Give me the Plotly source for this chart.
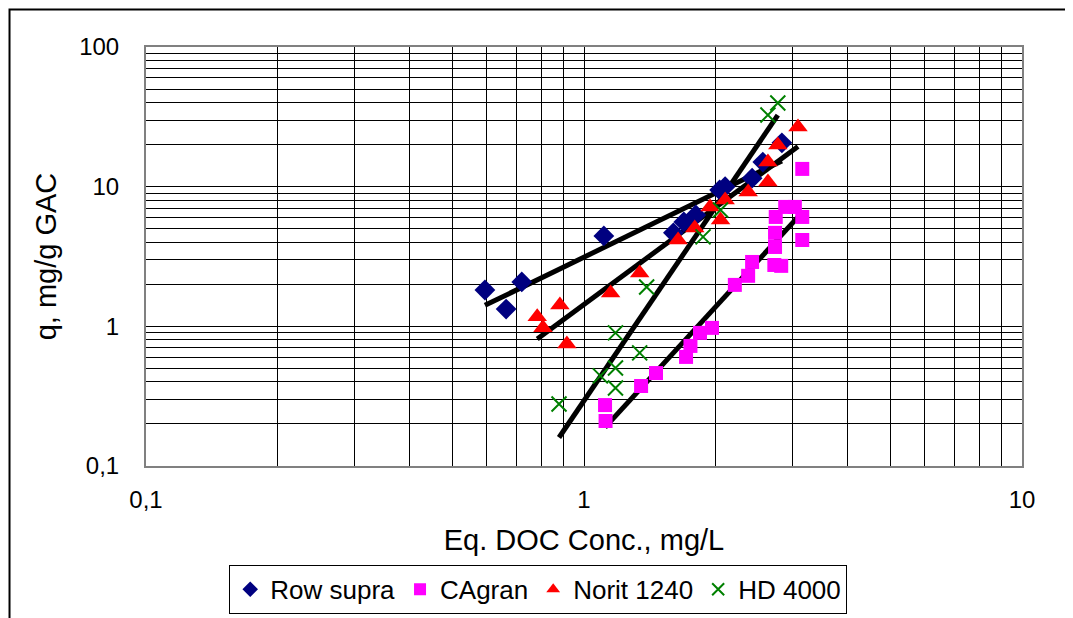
import numpy as np
import plotly.graph_objects as go

# Eq. DOC concentration (mg/L) and loading q (mg/g GAC)
row_supra_x = [0.594, 0.664, 0.721, 1.11, 1.60, 1.69, 1.80, 2.04, 2.10, 2.42, 2.56, 2.83]
row_supra_y = [1.82, 1.33, 2.08, 4.44, 4.67, 5.59, 6.27, 9.47, 10.0, 11.5, 15.0, 20.6]

cagran_x = [1.117, 1.12, 1.35, 1.46, 1.71, 1.75, 1.84, 1.96, 2.21, 2.37, 2.42,
            2.72, 2.82, 2.73, 2.73, 2.74, 2.88, 3.03, 3.15, 3.15, 3.15]
cagran_y = [0.273, 0.210, 0.374, 0.463, 0.604, 0.724, 0.898, 0.975, 1.98, 2.30, 2.89,
            2.75, 2.71, 3.70, 4.67, 6.07, 7.16, 7.16, 6.07, 4.15, 13.4]

norit_x = [0.782, 0.806, 0.881, 0.914, 1.15, 1.34, 1.64, 1.79, 1.94, 2.05, 2.10,
           2.37, 2.63, 2.63, 2.77, 3.08]
norit_y = [1.17, 0.975, 1.42, 0.748, 1.73, 2.41, 4.15, 5.06, 7.16, 5.78, 8.04,
           9.16, 10.8, 15.0, 19.9, 26.7]

hd_x = [0.877, 1.09, 1.18, 1.18, 1.18, 1.34, 1.39, 1.87, 2.05, 2.63, 2.77]
hd_y = [0.278, 0.442, 0.362, 0.503, 0.898, 0.646, 1.91, 4.37, 6.81, 32.6, 39.7]

grid_vals = [m * 10.0 ** e for e in (-1, 0, 1) for m in range(1, 10)]
x_tick_text = {0.1: "0,1", 1.0: "1", 10.0: "10"}
y_tick_text = {0.1: "0,1", 1.0: "1", 10.0: "10", 100.0: "100"}

series = [
    ("Row supra", row_supra_x, row_supra_y, dict(symbol="diamond", size=16, color="#000080")),
    ("CAgran", cagran_x, cagran_y, dict(symbol="square", size=14, color="#FF00FF")),
    ("Norit 1240", norit_x, norit_y, dict(symbol="triangle-up", size=17, color="#FF0000")),
    ("HD 4000", hd_x, hd_y, dict(symbol="x-thin", size=15, color="#008000",
                                 line=dict(color="#008000", width=2))),
]

fig = go.Figure()

# power-law trendlines (straight on log-log), spanning each series' x range
for name, xs, ys, _ in series:
    lx, ly = np.log10(xs), np.log10(ys)
    k, b = np.polyfit(lx, ly, 1)
    xe = np.array([min(xs), max(xs)])
    fig.add_trace(go.Scatter(x=xe, y=10 ** (b + k * np.log10(xe)), mode="lines",
                             line=dict(color="black", width=5), showlegend=False,
                             hoverinfo="skip"))

for name, xs, ys, mk in series:
    fig.add_trace(go.Scatter(x=xs, y=ys, mode="markers", name=name, marker=mk))

fig.update_xaxes(
    type="log", range=[-1, 1],
    tickvals=[v for v in grid_vals if v <= 10.0001],
    ticktext=[x_tick_text.get(round(v, 6), "") for v in grid_vals if v <= 10.0001],
    showgrid=True, gridcolor="black", gridwidth=1,
    showline=True, linecolor="#808080", linewidth=2, mirror=True,
    ticks="", ticklabelstandoff=11, zeroline=False,
    title=dict(text="Eq. DOC Conc., mg/L", standoff=18),
)
fig.update_yaxes(
    type="log", range=[-1, 2],
    tickvals=grid_vals + [100.0],
    ticktext=[y_tick_text.get(round(v, 6), "") for v in grid_vals + [100.0]],
    showgrid=True, gridcolor="black", gridwidth=1,
    showline=True, linecolor="#808080", linewidth=2, mirror=True,
    ticks="", ticklabelstandoff=20, zeroline=False,
    title=dict(text="q, mg/g GAC", standoff=14),
)

# page body adds ~8px offset, so the figure is trimmed by that much
fig.update_layout(
    width=1065, height=610,
    margin=dict(l=138, r=51, t=39, b=152, autoexpand=False),
    paper_bgcolor="white", plot_bgcolor="white",
    font=dict(family="Liberation Sans, Arial, sans-serif", size=24, color="black"),
    legend=dict(orientation="h", x=0.095, y=-0.236, xanchor="left", yanchor="top",
                bordercolor="black", borderwidth=1, font=dict(size=26),
                itemsizing="constant", tracegroupgap=0),
    shapes=[dict(type="rect", xref="paper", yref="paper",
                 x0=-0.1558, x1=1.08, y0=-0.40, y1=1.0895,
                 line=dict(color="black", width=2), layer="below")],
)

fig.write_html("out.html")
